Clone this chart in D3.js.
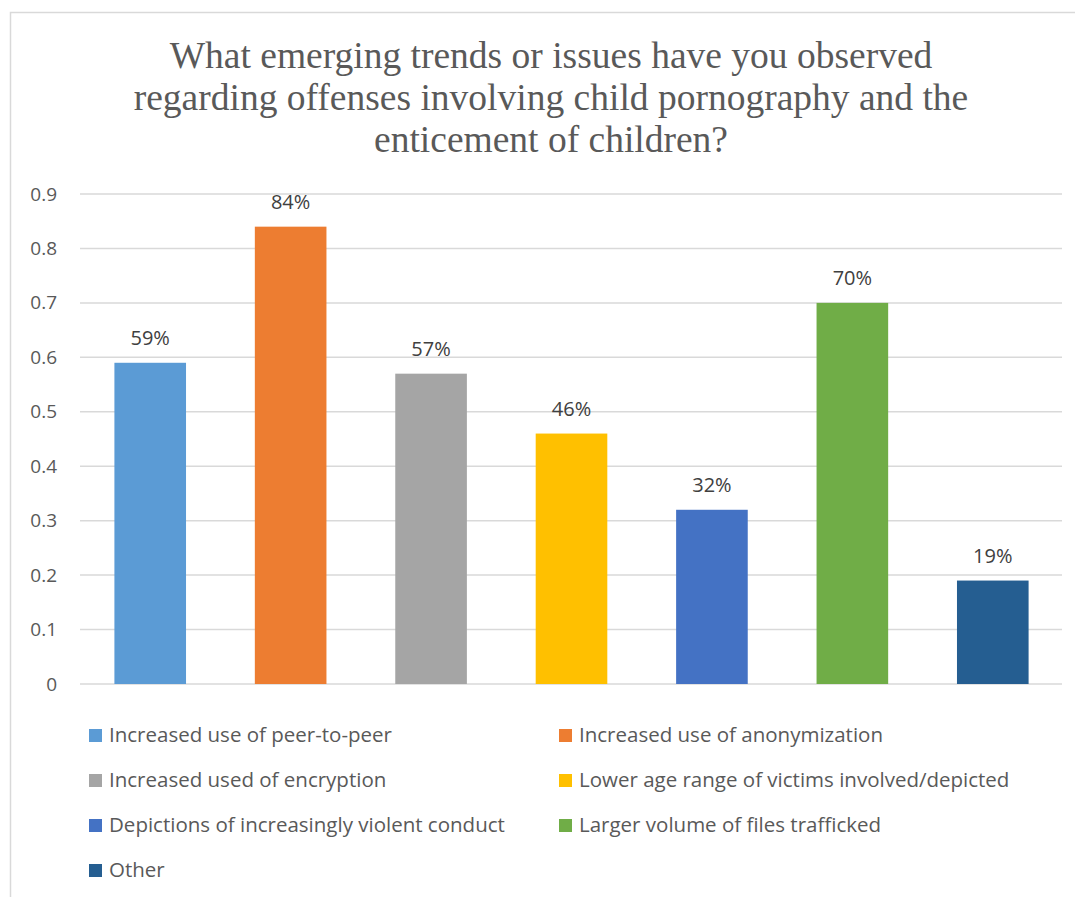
<!DOCTYPE html>
<html><head><meta charset="utf-8">
<script src="https://cdn.jsdelivr.net/npm/d3@7"></script>
<style>body{margin:0;background:#fff}svg{display:block}</style>
</head><body><svg id="c" width="1075" height="897"></svg>
<script>
const categories = ["Increased use of peer-to-peer","Increased use of anonymization","Increased used of encryption","Lower age range of victims involved/depicted","Depictions of increasingly violent conduct","Larger volume of files trafficked","Other"];
const values = [0.59,0.84,0.57,0.46,0.32,0.70,0.19];
const labels = ["59%","84%","57%","46%","32%","70%","19%"];
const colors = ["#5B9BD5","#ED7D31","#A5A5A5","#FFC000","#4472C4","#70AD47","#255E91"];
const yTicks = [0,0.1,0.2,0.3,0.4,0.5,0.6,0.7,0.8,0.9];
const titleLines = ["What emerging trends or issues have you observed","regarding offenses involving child pornography and the","enticement of children?"];

const svg = d3.select("#c");
// frame
svg.append("rect").attr("x",10.5).attr("y",12.5).attr("width",1100).attr("height",1000)
  .attr("fill","none").attr("stroke","#d9d9d9").attr("stroke-width",1.5);

const x = d3.scaleBand().domain(categories).range([80,1063]).paddingInner(0.49).paddingOuter(0.245);
const y = d3.scaleLinear().domain([0,0.9]).range([684,194]);

svg.append("g").selectAll("text").data(titleLines).join("text")
  .attr("x",551).attr("y",(d,i)=>68+i*42).attr("text-anchor","middle")
  .attr("font-family","Liberation Serif, Times New Roman, serif").attr("font-size",37.5)
  .attr("fill","#595959").text(d=>d);

const grid = svg.append("g");
grid.selectAll("line").data(yTicks).join("line")
  .attr("x1",80).attr("x2",1062).attr("y1",d=>y(d)).attr("y2",d=>y(d))
  .attr("stroke","#d9d9d9").attr("stroke-width",1.5);

const yAxis = d3.axisLeft(y).tickValues(yTicks).tickSize(0).tickPadding(0).tickFormat(d=>d===0?"0":d3.format(".1f")(d));
const ag = svg.append("g").attr("transform","translate(57,0)").call(yAxis);
ag.select(".domain").remove();
ag.selectAll("text").attr("font-family","Open Sans, sans-serif").attr("font-size",19).attr("fill","#595959");

svg.append("g").selectAll("rect").data(categories).join("rect")
  .attr("x",d=>x(d)).attr("width",x.bandwidth())
  .attr("y",(d,i)=>y(values[i])).attr("height",(d,i)=>y(0)-y(values[i]))
  .attr("fill",(d,i)=>colors[i]);

svg.append("g").selectAll("text").data(categories).join("text")
  .attr("x",d=>x(d)+x.bandwidth()/2).attr("y",(d,i)=>y(values[i])-18)
  .attr("text-anchor","middle").attr("font-family","Open Sans, sans-serif").attr("font-size",20)
  .attr("fill","#404040").text((d,i)=>labels[i]);

const lg = svg.append("g").selectAll("g").data(categories).join("g")
  .attr("transform",(d,i)=>`translate(${i%2===0?89:559},${742+Math.floor(i/2)*45})`);
lg.append("rect").attr("x",0).attr("y",-13).attr("width",13).attr("height",13).attr("fill",(d,i)=>colors[i]);
lg.append("text").attr("x",20).attr("y",0).attr("font-family","Open Sans, sans-serif").attr("font-size",20.5)
  .attr("fill","#595959").text(d=>d);
</script></body></html>
